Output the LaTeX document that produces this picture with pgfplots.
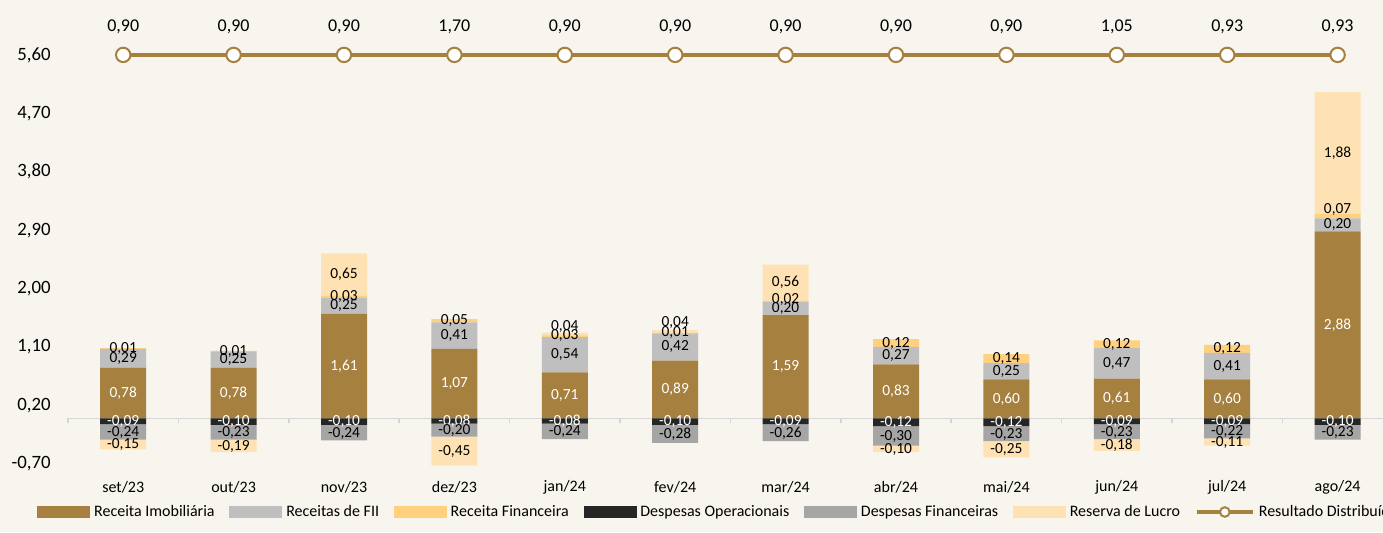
\documentclass[border=0pt]{standalone}
\usepackage{fontspec}
\setmainfont{Carlito}
\usepackage{pgfplots}
\pgfplotsset{compat=1.18}
\usepackage{pgfplotstable}

\definecolor{bgC}{HTML}{F8F4EE}
\definecolor{riC}{HTML}{A6803F}
\definecolor{fiiC}{HTML}{BFBFBF}
\definecolor{rfC}{HTML}{FFD17F}
\definecolor{doC}{HTML}{262626}
\definecolor{dfC}{HTML}{A5A5A5}
\definecolor{rlC}{HTML}{FFE2B3}
\definecolor{lnC}{HTML}{A6803F}
\definecolor{axC}{HTML}{D6D6D6}

\pgfplotstableread{
x RI FII RF RLp
0 0.78 0.29 0.01 0
1 0.78 0.25 0.01 0
2 1.61 0.25 0.03 0.65
3 1.07 0.41 0.05 0
4 0.71 0.54 0.03 0.04
5 0.89 0.42 0.01 0.04
6 1.59 0.20 0.02 0.56
7 0.83 0.27 0.12 0
8 0.60 0.25 0.14 0
9 0.61 0.47 0.12 0
10 0.60 0.41 0.12 0
11 2.88 0.20 0.07 1.88
}\postab

\pgfplotstableread{
x DO DF RLn
0 -0.09 -0.24 -0.15
1 -0.10 -0.23 -0.19
2 -0.10 -0.24 0
3 -0.08 -0.20 -0.45
4 -0.08 -0.24 0
5 -0.10 -0.28 0
6 -0.09 -0.26 0
7 -0.12 -0.30 -0.10
8 -0.12 -0.23 -0.25
9 -0.09 -0.23 -0.18
10 -0.09 -0.22 -0.11
11 -0.10 -0.23 0
}\negtab

\pgfplotstableread{
x y lab
0 0.39 0,78
1 0.39 0,78
2 0.805 1,61
3 0.535 1,07
4 0.355 0,71
5 0.445 0,89
6 0.795 1,59
7 0.415 0,83
8 0.30 0,60
9 0.305 0,61
10 0.30 0,60
11 1.44 2,88
0 -0.05 -0,09
1 -0.055 -0,10
2 -0.055 -0,10
3 -0.045 -0,08
4 -0.045 -0,08
5 -0.055 -0,10
6 -0.05 -0,09
7 -0.065 -0,12
8 -0.065 -0,12
9 -0.05 -0,09
10 -0.05 -0,09
11 -0.055 -0,10
}\whitelabs

\pgfplotstableread{
x y lab
0 0.925 0,29
0 1.075 0,01
0 -0.22 -0,24
0 -0.41 -0,15
1 0.905 0,25
1 1.035 0,01
1 -0.225 -0,23
1 -0.43 -0,19
2 1.735 0,25
2 1.875 0,03
2 2.215 0,65
2 -0.23 -0,24
3 1.275 0,41
3 1.505 0,05
3 -0.19 -0,20
3 -0.505 -0,45
4 0.98 0,54
4 1.27 0,03
4 1.42 0,04
4 -0.21 -0,24
5 1.10 0,42
5 1.32 0,01
5 1.48 0,04
5 -0.25 -0,28
6 1.69 0,20
6 1.83 0,02
6 2.09 0,56
6 -0.23 -0,26
7 0.965 0,27
7 1.16 0,12
7 -0.28 -0,30
7 -0.48 -0,10
8 0.725 0,25
8 0.92 0,14
8 -0.245 -0,23
8 -0.48 -0,25
9 0.845 0,47
9 1.14 0,12
9 -0.215 -0,23
9 -0.415 -0,18
10 0.805 0,41
10 1.07 0,12
10 -0.21 -0,22
10 -0.37 -0,11
11 2.98 0,20
11 3.22 0,07
11 4.09 1,88
11 -0.225 -0,23
}\blacklabs

\pgfplotstableread{
x y lab
0 5.6 0,90
1 5.6 0,90
2 5.6 0,90
3 5.6 1,70
4 5.6 0,90
5 5.6 0,90
6 5.6 0,90
7 5.6 0,90
8 5.6 0,90
9 5.6 1,05
10 5.6 0,93
11 5.6 0,93
}\restab

\pgfplotsset{
  base/.style={
    scale only axis, x=55.2pt, y=32.45pt,
    xmin=-0.5, xmax=11.5, ymin=-0.75, ymax=5.75,
    at={(34pt,32.5pt)}, anchor=south west,
  },
  barax/.style={base, hide axis, ybar stacked, bar width=23pt},
}

\begin{document}
\begin{tikzpicture}
\useasboundingbox (0,0) rectangle (691.5pt,266pt);
\fill[bgC] (0,0) rectangle (691.5pt,266pt);
\clip (0,0) rectangle (691.5pt,266pt);

% zero line with category separators
\begin{axis}[base,
  axis y line=none, axis x line=middle,
  axis line style={-, draw=axC, line width=0.8pt},
  xtick={-0.5,0.5,1.5,2.5,3.5,4.5,5.5,6.5,7.5,8.5,9.5,10.5,11.5},
  xticklabel={\relax}, ytick=\empty,
  tick align=outside, major tick length=2.5pt,
  tick style={draw=axC, line width=0.8pt}]
\addplot[draw=none] coordinates {(0,0)};
\end{axis}

% positive stack
\begin{axis}[barax]
\addplot[fill=riC, draw=none] table[x=x, y=RI] {\postab};
\addplot[fill=fiiC, draw=none] table[x=x, y=FII] {\postab};
\addplot[fill=rfC, draw=none] table[x=x, y=RF] {\postab};
\addplot[fill=rlC, draw=none] table[x=x, y=RLp] {\postab};
\end{axis}

% negative stack
\begin{axis}[barax]
\addplot[fill=doC, draw=none] table[x=x, y=DO] {\negtab};
\addplot[fill=dfC, draw=none] table[x=x, y=DF] {\negtab};
\addplot[fill=rlC, draw=none] table[x=x, y=RLn] {\negtab};
\end{axis}

% labels, line, ticks, legend
\begin{axis}[base, clip=false,
  axis line style={draw=none}, major tick length=0pt, tick style={draw=none},
  xtick={0,1,2,3,4,5,6,7,8,9,10,11},
  xticklabels={set/23,out/23,nov/23,dez/23,jan/24,fev/24,mar/24,abr/24,mai/24,jun/24,jul/24,ago/24},
  xticklabel style={anchor=center, yshift=-10pt, font=\fontsize{8}{9}\selectfont},
  ytick={-0.7,0.2,1.1,2.0,2.9,3.8,4.7,5.6},
  yticklabels={{-0,70},{0,20},{1,10},{2,00},{2,90},{3,80},{4,70},{5,60}},
  yticklabel style={anchor=east, inner sep=0pt, xshift=-8.5pt, font=\fontsize{9.4}{10}\selectfont},
  legend columns=7,
  legend style={draw=none, fill=none, at={(rel axis cs:0,0)}, anchor=west,
    xshift=-15.5pt, yshift=-22.5pt, inner sep=0pt,
    font=\fontsize{8}{9}\selectfont,
    /tikz/every even column/.append style={column sep=5.4pt}},
]
\addlegendimage{legend image code/.code={\fill[riC] (0pt,-2.75pt) rectangle (26pt,2.75pt);}}
\addlegendentry{Receita Imobiliária}
\addlegendimage{legend image code/.code={\fill[fiiC] (0pt,-2.75pt) rectangle (26pt,2.75pt);}}
\addlegendentry{Receitas de FII}
\addlegendimage{legend image code/.code={\fill[rfC] (0pt,-2.75pt) rectangle (26pt,2.75pt);}}
\addlegendentry{Receita Financeira}
\addlegendimage{legend image code/.code={\fill[doC] (0pt,-2.75pt) rectangle (26pt,2.75pt);}}
\addlegendentry{Despesas Operacionais}
\addlegendimage{legend image code/.code={\fill[dfC] (0pt,-2.75pt) rectangle (26pt,2.75pt);}}
\addlegendentry{Despesas Financeiras}
\addlegendimage{legend image code/.code={\fill[rlC] (0pt,-2.75pt) rectangle (26pt,2.75pt);}}
\addlegendentry{Reserva de Lucro}
\addlegendimage{legend image code/.code={\draw[lnC, line width=2pt] (0pt,0pt) -- (28pt,0pt); \draw[lnC, line width=1pt, fill=white] (14pt,0pt) circle (2.4pt);}}
\addlegendentry{Resultado Distribuído}

\addplot[draw=none, mark=none, forget plot, nodes near coords, point meta=explicit symbolic,
  nodes near coords style={anchor=center, inner sep=0pt, text=white, font=\fontsize{7.7}{8}\selectfont}]
  table[x=x, y=y, meta=lab] {\whitelabs};
\addplot[draw=none, mark=none, forget plot, nodes near coords, point meta=explicit symbolic,
  nodes near coords style={anchor=center, inner sep=0pt, text=black, font=\fontsize{7.7}{8}\selectfont}]
  table[x=x, y=y, meta=lab] {\blacklabs};

\addplot[forget plot, lnC, line width=2pt, mark=*, mark size=3.6pt,
  mark options={fill=white, draw=lnC, line width=1pt},
  nodes near coords, point meta=explicit symbolic,
  nodes near coords style={anchor=center, inner sep=0pt, yshift=14pt, text=black, font=\fontsize{9}{10}\selectfont}]
  table[x=x, y=y, meta=lab] {\restab};
\end{axis}
\end{tikzpicture}
\end{document}
